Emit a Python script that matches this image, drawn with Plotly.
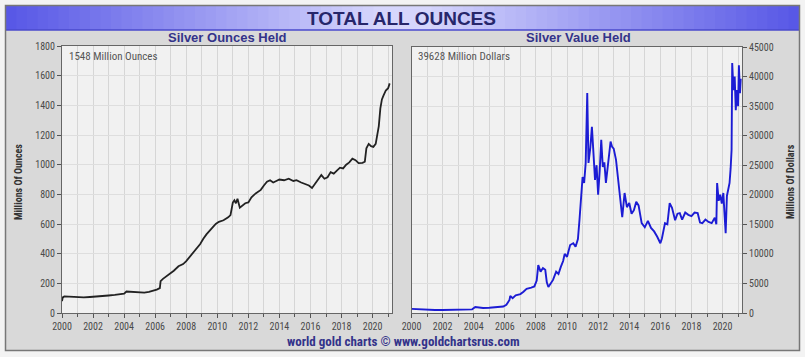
import plotly.graph_objects as go

# ---------------- data ----------------
oz_years = [2000.0, 2000.05, 2000.15, 2000.4, 2000.7, 2001.0, 2001.4, 2001.8, 2002.2, 2002.6, 2003.0,
            2003.4, 2003.8, 2004.0, 2004.15, 2004.4, 2004.7, 2005.0, 2005.3, 2005.6, 2005.9, 2006.1,
            2006.3, 2006.35, 2006.5, 2006.7, 2007.0, 2007.2, 2007.5, 2007.8, 2008.0, 2008.3, 2008.6,
            2008.9, 2009.1, 2009.3, 2009.6, 2009.9, 2010.1, 2010.4, 2010.7, 2010.85, 2011.0, 2011.1,
            2011.2, 2011.3, 2011.45, 2011.6, 2011.8, 2012.0, 2012.2, 2012.4, 2012.6, 2012.8, 2013.0,
            2013.2, 2013.4, 2013.6, 2013.8, 2014.0, 2014.3, 2014.6, 2014.9, 2015.1, 2015.4, 2015.7,
            2015.9, 2016.1, 2016.3, 2016.5, 2016.7, 2016.9, 2017.1, 2017.3, 2017.5, 2017.7, 2017.9,
            2018.1, 2018.3, 2018.5, 2018.7, 2018.9, 2019.1, 2019.35, 2019.5, 2019.6, 2019.75, 2019.9,
            2020.05, 2020.2, 2020.3, 2020.4, 2020.5, 2020.6, 2020.7, 2020.85, 2021.0, 2021.1]
oz_values = [80, 105, 112, 110, 106, 104, 105, 108, 110, 112, 118,
             122, 125, 130, 145, 143, 138, 136, 138, 142, 150, 158,
             168, 215, 230, 245, 265, 285, 315, 330, 350, 390, 430,
             465, 500, 530, 565, 600, 615, 625, 645, 660, 745, 760,
             740, 770, 710, 725, 740, 745, 780, 800, 815, 830, 860,
             885, 895, 880, 890, 900, 895, 905, 890, 895, 880, 870,
             860, 843, 870, 900, 930, 905, 915, 950, 940, 960, 980,
             975, 1000, 1015, 1040, 1030, 1010, 1012, 1020, 1110, 1140, 1125,
             1120, 1140, 1200, 1260, 1380, 1440, 1465, 1500, 1515, 1548]

val_years = [2000.0, 2000.3, 2000.6, 2001.0, 2001.5, 2002.0, 2002.5, 2003.0, 2003.5, 2003.9, 2004.1,
             2004.3, 2004.6, 2005.0, 2005.5, 2005.9, 2006.1, 2006.3, 2006.35, 2006.5, 2006.7, 2007.0,
             2007.2, 2007.4, 2007.7, 2007.9, 2008.05, 2008.15, 2008.3, 2008.45, 2008.6, 2008.7, 2008.8,
             2008.95, 2009.1, 2009.3, 2009.45, 2009.6, 2009.75, 2009.85, 2010.0, 2010.2, 2010.4, 2010.55,
             2010.7, 2010.8, 2010.9, 2011.0, 2011.1, 2011.2, 2011.3, 2011.38, 2011.5, 2011.6, 2011.7,
             2011.8, 2011.9, 2012.0, 2012.1, 2012.2, 2012.3, 2012.4, 2012.5, 2012.65, 2012.8, 2012.9,
             2013.0, 2013.15, 2013.3, 2013.45, 2013.55, 2013.7, 2013.85, 2014.0, 2014.15, 2014.3, 2014.45,
             2014.6, 2014.8, 2015.0, 2015.2, 2015.4, 2015.6, 2015.8, 2016.0, 2016.1, 2016.3, 2016.45,
             2016.6, 2016.75, 2016.95, 2017.1, 2017.25, 2017.4, 2017.6, 2017.8, 2018.0, 2018.2, 2018.4,
             2018.55, 2018.7, 2018.9, 2019.1, 2019.3, 2019.5, 2019.6, 2019.65, 2019.75, 2019.85, 2019.95,
             2020.05, 2020.12, 2020.2, 2020.28, 2020.35, 2020.45, 2020.52, 2020.58, 2020.62, 2020.7, 2020.78,
             2020.85, 2020.92, 2021.0, 2021.05, 2021.12, 2021.17]
val_values = [700, 650, 600, 550, 520, 500, 520, 540, 560, 620, 1000,
              900, 850, 900, 950, 1100, 1400, 2200, 2900, 2500, 3000, 3200,
              3600, 4100, 4300, 4500, 5500, 8100, 7000, 7600, 7300, 5200, 4400,
              5000, 5600, 7000, 6600, 7800, 8800, 10000, 9500, 11500, 11800, 11200,
              12500, 15700, 20300, 23000, 22000, 25400, 37200, 25400, 28000, 31500, 27000,
              22500, 25000, 20000, 24000, 29300, 24700, 25500, 22000, 26000, 29000, 28100,
              27800, 25900, 22500, 18500, 16200, 20300, 17900, 18600, 16800, 17400, 18800,
              18200, 15200, 14500, 15600, 14400, 13800, 12900, 11800, 12600, 15200, 15000,
              18600, 17800, 15700, 16800, 16900, 15800, 17000, 16600, 16400, 17000, 16900,
              15300, 15200, 15800, 15400, 15200, 16100, 15000, 22000, 19000, 20000, 18500,
              20300, 17000, 13500, 19800, 20800, 22000, 24500, 27600, 42300, 37700, 40000,
              34300, 37700, 35000, 41900, 37200, 39628]

year_ticks = [2000, 2002, 2004, 2006, 2008, 2010, 2012, 2014, 2016, 2018, 2020]
oz_ticks = [0, 200, 400, 600, 800, 1000, 1200, 1400, 1600, 1800]
val_ticks = [0, 5000, 10000, 15000, 20000, 25000, 30000, 35000, 40000, 45000]

# ---------------- figure ----------------
W, H = 805, 357
NAVY = "#33338a"
NARROW = "Liberation Sans Narrow, Arial Narrow, Roboto Condensed, DejaVu Sans Condensed, sans-serif"
TICKFONT = dict(family=NARROW, size=10, color="#4a4a4a")


def px(x):
    return x / W


def py(y):
    return 1 - y / H


fig = go.Figure()
fig.add_trace(go.Scatter(x=oz_years, y=oz_values, mode="lines",
                         line=dict(color="#222", width=1.8), xaxis="x", yaxis="y",
                         showlegend=False, hoverinfo="skip"))
fig.add_trace(go.Scatter(x=val_years, y=val_values, mode="lines",
                         line=dict(color="#1c1cd4", width=1.9), xaxis="x2", yaxis="y2",
                         showlegend=False, hoverinfo="skip"))

xcommon = dict(range=[2000, 2021.25], tickvals=year_ticks, ticks="outside", ticklen=4,
               tickcolor="#555", showline=True, linecolor="#666", linewidth=1, mirror=True,
               showgrid=True, gridcolor="#d6d6d6", gridwidth=1, zeroline=False,
               tickfont=TICKFONT, fixedrange=True, automargin=False,
               minor=dict(dtick=1, tick0=2000, ticks="outside", ticklen=3, tickcolor="#555",
                          showgrid=True, gridcolor="#d6d6d6"))

fig.update_layout(
    template="none",
    width=W, height=H,
    margin=dict(l=0, r=0, t=0, b=0, pad=0),
    paper_bgcolor="#d9d9d9",
    plot_bgcolor="#f1f1f1",
    xaxis=dict(domain=[px(62), px(392)], anchor="y", **xcommon),
    yaxis=dict(domain=[py(313), py(46)], range=[0, 1800], tickvals=oz_ticks, anchor="x",
               ticks="outside", ticklen=4, tickcolor="#555", showline=True, linecolor="#666",
               mirror=True, showgrid=True, gridcolor="#dedede", zeroline=False,
               tickfont=TICKFONT, fixedrange=True, automargin=False, tickformat="d"),
    xaxis2=dict(domain=[px(411.5), px(742)], anchor="y2", **xcommon),
    yaxis2=dict(domain=[py(313), py(47)], range=[0, 45000], tickvals=val_ticks, anchor="x2",
                side="right", ticks="outside", ticklen=4, tickcolor="#555", showline=True,
                linecolor="#666", mirror=True, showgrid=True, gridcolor="#dedede", zeroline=False,
                tickfont=TICKFONT, fixedrange=True, automargin=False, tickformat="d"),
)

shapes = []
OUT = "#f3f3f3"
# light strips outside the panel
for (x0, x1, y0, y1) in [(0, 805, 0, 5), (0, 805, 351, 357), (0, 5, 0, 357), (800, 805, 0, 357)]:
    shapes.append(dict(type="rect", xref="paper", yref="paper", x0=px(x0), x1=px(x1), y0=py(y1), y1=py(y0),
                       fillcolor=OUT, line=dict(width=0), layer="below"))
# banner gradient (layered)
steps = 36
edge = (88, 88, 230)
centre = (214, 214, 252)
for i in range(steps):
    t = i / (steps - 1)
    c = tuple(round(edge[k] + (centre[k] - edge[k]) * t) for k in range(3))
    inset = i * 10.5
    shapes.append(dict(type="rect", xref="paper", yref="paper", x0=px(6 + inset), x1=px(799 - inset),
                       y0=py(30), y1=py(6), fillcolor="rgb(%d,%d,%d)" % c, line=dict(width=0), layer="below"))
shapes.append(dict(type="line", xref="paper", yref="paper", x0=px(6), x1=px(799), y0=py(30), y1=py(30),
                   line=dict(color="#4a4acc", width=1.5), layer="below"))
# panel border
shapes.append(dict(type="rect", xref="paper", yref="paper", x0=px(5.5), x1=px(799.5), y0=py(350.5), y1=py(5.5),
                   fillcolor="rgba(0,0,0,0)", line=dict(color="#777", width=1.5), layer="below"))
fig.update_layout(shapes=shapes)


def note(text, x, y, font, **kw):
    d = dict(text=text, x=px(x), y=py(y), xref="paper", yref="paper", showarrow=False,
             xanchor="center", yanchor="middle", font=font)
    d.update(kw)
    return d


ann = [
    note("<b>TOTAL ALL OUNCES</b>", 401, 18,
         dict(family="Liberation Sans, Arial, sans-serif", size=19, color="#26266a")),
    note("<b>Silver Ounces Held</b>", 227, 38,
         dict(family="Liberation Sans, Arial, sans-serif", size=13, color=NAVY)),
    note("<b>Silver Value Held</b>", 578, 38,
         dict(family="Liberation Sans, Arial, sans-serif", size=13, color=NAVY)),
    note("1548 Million Ounces", 67, 56, dict(family=NARROW, size=11, color="#555"), xanchor="left"),
    note("39628 Million Dollars", 416, 56, dict(family=NARROW, size=11, color="#555"), xanchor="left"),
    note("<b>Millions Of Ounces</b>", 18, 182, dict(family=NARROW, size=10, color="#333"), textangle=-90),
    note("<b>Millions Of Dollars</b>", 790, 182, dict(family=NARROW, size=10, color="#333"), textangle=-90),
    note("<b>world gold charts © www.goldchartsrus.com</b>", 403, 341,
         dict(family=NARROW, size=13, color=NAVY)),
]
fig.update_layout(annotations=ann)

fig.write_html("out.html", config={"displayModeBar": False},
               post_script="document.body.style.margin='0';document.body.style.overflow='hidden';")
